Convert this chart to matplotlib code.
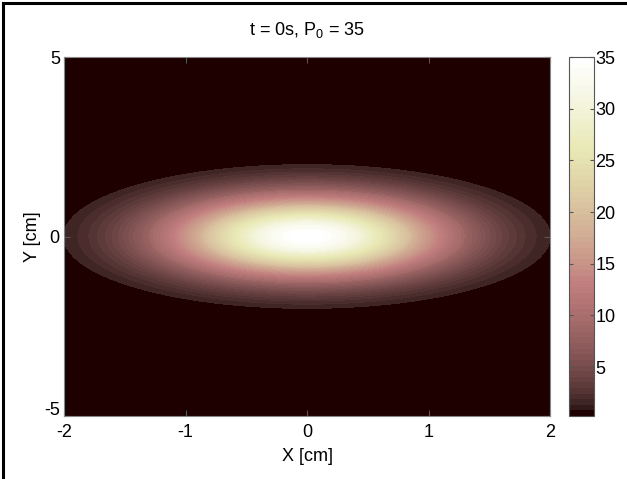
import numpy as np
import matplotlib
matplotlib.use("Agg")
import matplotlib.pyplot as plt
from matplotlib.lines import Line2D
from matplotlib.cm import ScalarMappable
from matplotlib.colors import Normalize

plt.rcParams['font.family'] = ['Liberation Sans', 'DejaVu Sans']
plt.rcParams['axes.unicode_minus'] = False

# Initial pressure field: Gaussian pulse of peak P0 centred at the origin
P0 = 35.0
spread = 1.2            # exp(-(x^2 + y^2) / spread), in cm^2
x_range = [-2.0, 2.0]
y_range = [-5.0, 5.0]
x_ticks = [-2, -1, 0, 1, 2]
y_ticks = [-5, 0, 5]
cbar_ticks = [5, 10, 15, 20, 25, 30, 35]
color_min = 0.26
first_level = 1.24
n_levels = 60

x = np.linspace(x_range[0], x_range[1], 401)
y = np.linspace(y_range[0], y_range[1], 801)
X, Y = np.meshgrid(x, y)
Z = P0 * np.exp(-(X**2 + Y**2) / spread)

cmap = plt.get_cmap('pink', 64)
norm = Normalize(vmin=color_min, vmax=P0)

fig = plt.figure(figsize=(6.27, 4.79), dpi=100)
W, H = 627, 479
ax = fig.add_axes([64 / W, 1 - 416 / H, (550 - 64) / W, (416 - 57) / H])
cax = fig.add_axes([569 / W, 1 - 416 / H, (594 - 569) / W, (416 - 57) / H])

fs = 13
ax.set_facecolor(cmap(0))
levels = np.linspace(first_level, P0, n_levels)
ax.contourf(X, Y, Z, levels=levels, cmap=cmap, norm=norm)
ax.set_xlim(x_range)
ax.set_ylim(y_range)
ax.set_xticks(x_ticks)
ax.set_yticks(y_ticks)
# the bottom y label sits a little higher so it clears the x labels
ax.set_yticklabels(['' if v == y_ticks[0] else str(v) for v in y_ticks])
ax.annotate(str(y_ticks[0]), xy=(0, 0), xycoords='axes fraction',
            xytext=(-3, 4), textcoords='offset points',
            ha='right', va='center', fontsize=fs)
ax.tick_params(axis='both', direction='in', length=4, labelsize=fs,
               top=True, right=True, color='#555555')
ax.tick_params(axis='x', pad=6)
ax.tick_params(axis='y', pad=3)
for s in ax.spines.values():
    s.set_color('#888888')
    s.set_linewidth(0.8)
ax.set_xlabel('X [cm]', fontsize=fs, labelpad=5)
ax.set_ylabel('Y [cm]', fontsize=fs, labelpad=6)
ax.set_title('t = 0s, P$_\\mathregular{0}$ = 35', fontsize=fs, pad=16)

sm = ScalarMappable(norm=norm, cmap=cmap)
cb = fig.colorbar(sm, cax=cax)
cb.set_ticks(cbar_ticks)
cax.tick_params(direction='in', length=3, labelsize=fs, left=True, right=True,
                color='#555555', pad=1)
cb.outline.set_edgecolor('#555555')
cb.outline.set_linewidth(0.8)

# page frame along the top and left edges
fig.add_artist(Line2D([3 / W, 3 / W], [0, 1 - 3 / H], color='black', lw=2.2))
fig.add_artist(Line2D([3 / W, 1], [1 - 3 / H, 1 - 3 / H], color='black', lw=2.2))

fig.savefig('out.png', dpi=100)
